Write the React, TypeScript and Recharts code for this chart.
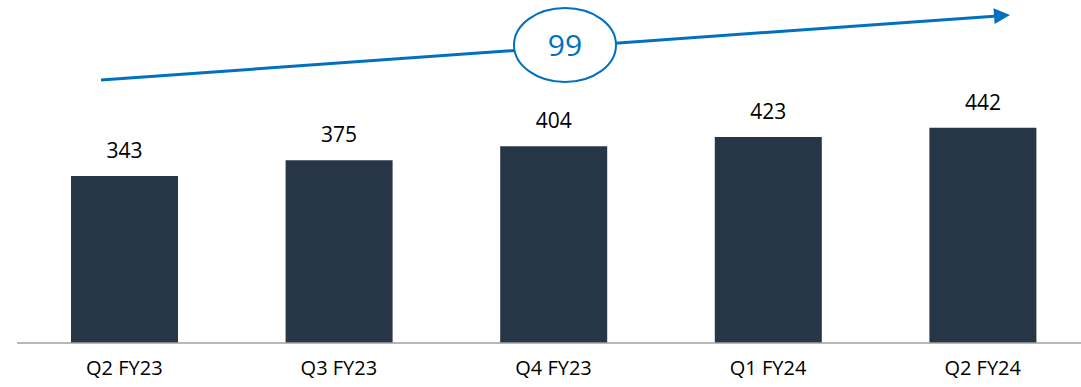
import React from 'react';
import { BarChart, Bar, XAxis, YAxis, LabelList } from 'recharts';

const quarters = ['Q2 FY23', 'Q3 FY23', 'Q4 FY23', 'Q1 FY24', 'Q2 FY24'];
const values = [343, 375, 404, 423, 442];

const chartData = quarters.map((q, i) => ({ quarter: q, value: values[i] }));
const growth = values[values.length - 1] - values[0];

const FONT = '"Open Sans", "Noto Sans", sans-serif';
const BAR_COLOR = '#263646';
const BLUE = '#0070C0';

// annotation (trend arrow + bubble)
const arrowStart = { x: 101, y: 80 };
const arrowEnd = { x: 1010, y: 15 };
const bubble = { cx: 565, cy: 45, rx: 51, ry: 37 };

const App: React.FC = () => {
    const dx = arrowEnd.x - arrowStart.x;
    const dy = arrowEnd.y - arrowStart.y;
    const len = Math.sqrt(dx * dx + dy * dy);
    const ux = dx / len;
    const uy = dy / len;
    const headLen = 16;
    const headW = 8;
    const bx = arrowEnd.x - ux * headLen;
    const by = arrowEnd.y - uy * headLen;
    const head = `${arrowEnd.x},${arrowEnd.y} ${bx - uy * headW},${by + ux * headW} ${bx + uy * headW},${by - ux * headW}`;

    return (
        <div style={{ position: 'absolute', left: 0, top: 0, width: 1081, height: 387, overflow: 'hidden', background: '#fff' }}>
            <BarChart
                width={1100}
                height={387}
                data={chartData}
                margin={{ top: 2, right: 10, left: 17, bottom: 0 }}
            >
                <YAxis hide domain={[0, 700]} />
                <XAxis
                    dataKey="quarter"
                    height={44}
                    axisLine={{ stroke: '#A0A0A0', strokeWidth: 1.5 }}
                    tickLine={false}
                    tickMargin={12}
                    tick={{ fontSize: 20, fill: '#000', fontFamily: FONT }}
                    interval={0}
                />
                <Bar dataKey="value" fill={BAR_COLOR} barSize={107} isAnimationActive={false}>
                    <LabelList
                        dataKey="value"
                        content={(props: any) => {
                            const { x, y, width, value } = props;
                            return (
                                <text x={x + width / 2} y={y - 18} fill="#000" fontSize={21} fontFamily={FONT} textAnchor="middle">
                                    {value}
                                </text>
                            );
                        }}
                    />
                </Bar>
            </BarChart>
            <svg width={1081} height={387} style={{ position: 'absolute', left: 0, top: 0, pointerEvents: 'none' }}>
                <line x1={arrowStart.x} y1={arrowStart.y} x2={bx} y2={by} stroke={BLUE} strokeWidth={3} />
                <polygon points={head} fill={BLUE} />
                <ellipse cx={bubble.cx} cy={bubble.cy} rx={bubble.rx} ry={bubble.ry} fill="#fff" stroke={BLUE} strokeWidth={2} />
                <text x={bubble.cx} y={bubble.cy + 11} fill={BLUE} fontSize={30} fontFamily={FONT} textAnchor="middle">
                    {growth}
                </text>
            </svg>
        </div>
    );
};

export default App;
